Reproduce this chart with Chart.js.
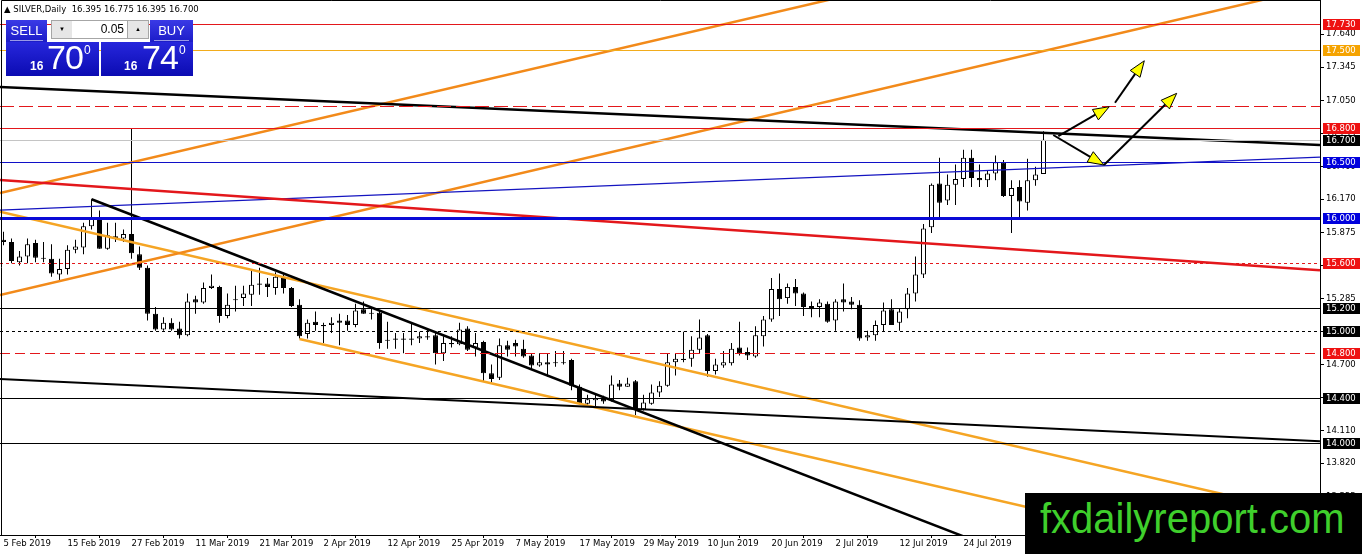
<!DOCTYPE html>
<html>
<head>
<meta charset="utf-8">
<script src="https://cdn.jsdelivr.net/npm/chart.js"></script>
<style>
  body { margin: 0; background: #fff; }
  #wrap { position: relative; width: 1362px; height: 554px; overflow: hidden; }
  #chart { position: absolute; left: 0; top: 0; }
  .abs { position: absolute; }
  #title { left: 4px; top: 4px; font: 8.5px 'DejaVu Sans', sans-serif; color: #000; white-space: pre; }
  .head { background: linear-gradient(#3a3ae6, #1c1cc8); color: #fff; font: 13px 'Liberation Sans', sans-serif; text-align: center; line-height: 21px; }
  .head span { display: block; margin: 0 4px; border-bottom: 1px solid rgba(255,255,255,0.55); height: 20px; }
  .big { background: linear-gradient(#2727dc, #0b0bb2); color: #fff; font-family: 'Liberation Sans', sans-serif; }
  .spin { background: #e6e6e6; border: 1px solid #a6a6a6; box-sizing: border-box; font-size: 6px; text-align: center; line-height: 17px; color: #000; }
  #lot { left: 72px; top: 20px; width: 56px; height: 19px; background: #fff; border-top: 1px solid #a6a6a6; border-bottom: 1px solid #a6a6a6; box-sizing: border-box; font: 12px 'Liberation Sans', sans-serif; text-align: right; padding-right: 4px; line-height: 17px; }
  .small { font-size: 12px; font-weight: bold; }
  .digits { font-size: 34px; letter-spacing: -1px; }
  .sup { font-size: 12px; }
  #logo { left: 1025px; top: 493px; width: 337px; height: 61px; background: #000; }
  #logo div { position: absolute; left: 15px; top: 1px; font: 43px 'Liberation Sans', sans-serif; color: #3fcf2c; transform: scaleX(0.93); transform-origin: left top; white-space: nowrap; }
</style>
</head>
<body>
<div id="wrap">
  <canvas id="chart" width="1362" height="554"></canvas>
  <div id="title" class="abs">▲ SILVER,Daily  16.395 16.775 16.395 16.700</div>

  <div class="abs head" style="left:6px;top:20px;width:41px;height:22px;"><span>SELL</span></div>
  <div class="abs spin" style="left:51px;top:20px;width:22px;height:19px;">▼</div>
  <div id="lot" class="abs">0.05</div>
  <div class="abs spin" style="left:127px;top:20px;width:22px;height:19px;">▲</div>
  <div class="abs head" style="left:150px;top:20px;width:43px;height:22px;"><span>BUY</span></div>

  <div class="abs big" style="left:6px;top:42px;width:93px;height:34px;"></div>
  <div class="abs big" style="left:101px;top:42px;width:92px;height:34px;"></div>
  <div class="abs small" style="left:30px;top:59px;color:#fff;font-family:'Liberation Sans';">16</div>
  <div class="abs digits" style="left:47px;top:38px;color:#fff;font-family:'Liberation Sans';">70</div>
  <div class="abs sup" style="left:84px;top:43px;color:#fff;font-family:'Liberation Sans';">0</div>
  <div class="abs small" style="left:124px;top:59px;color:#fff;font-family:'Liberation Sans';">16</div>
  <div class="abs digits" style="left:142px;top:38px;color:#fff;font-family:'Liberation Sans';">74</div>
  <div class="abs sup" style="left:179px;top:43px;color:#fff;font-family:'Liberation Sans';">0</div>

  <div id="logo" class="abs"><div>fxdailyreport.com</div></div>
</div>

<script>
// Daily candles, index 0 = 5 Feb 2019
const opens = [
  15.81, 15.79, 15.61, 15.66, 15.78, 15.65, 15.64, 15.50, 15.55, 15.72,
  15.74, 15.93, 16.01, 15.73, 15.84, 15.82, 15.86, 15.68, 15.56, 15.15,
  15.01, 15.07, 15.02, 14.96, 15.28, 15.25, 15.38, 15.39, 15.13, 15.28,
  15.29, 15.32, 15.42, 15.42, 15.38, 15.47, 15.38, 15.23, 14.97, 15.08,
  15.05, 15.05, 15.09, 15.09, 15.05, 15.19, 15.16, 15.16, 14.92, 14.93,
  14.93, 14.93, 14.93, 14.95, 14.96, 14.80, 14.89, 14.88, 15.02, 14.85,
  14.90, 14.62, 14.58, 14.87, 14.89, 14.84, 14.78, 14.69, 14.72, 14.72,
  14.72, 14.74, 14.50, 14.35, 14.38, 14.40, 14.38, 14.53, 14.50, 14.55,
  14.30, 14.35, 14.45, 14.51, 14.72, 14.75, 14.75, 14.83, 14.96, 14.64,
  14.69, 14.71, 14.85, 14.81, 14.77, 14.95, 15.10, 15.37, 15.29, 15.39,
  15.33, 15.22, 15.21, 15.24, 15.09, 15.28, 15.26, 15.23, 14.94, 14.96,
  15.05, 15.19, 15.07, 15.19, 15.33, 15.50, 15.92, 16.31, 16.16, 16.30,
  16.35, 16.54, 16.36, 16.34, 16.40, 16.50, 16.20, 16.28, 16.14, 16.34,
  16.395
];
const highs = [
  15.88, 15.82, 15.71, 15.82, 15.81, 15.79, 15.77, 15.64, 15.76, 15.81,
  15.96, 16.17, 16.07, 15.96, 15.96, 15.90, 16.80, 15.75, 15.58, 15.21,
  15.12, 15.11, 15.08, 15.33, 15.31, 15.43, 15.50, 15.40, 15.33, 15.40,
  15.40, 15.54, 15.56, 15.47, 15.52, 15.50, 15.39, 15.28, 15.10, 15.17,
  15.07, 15.12, 15.15, 15.14, 15.24, 15.26, 15.20, 15.18, 15.08, 14.98,
  14.98, 15.07, 14.99, 15.01, 14.98, 14.95, 14.95, 15.07, 15.04, 14.98,
  14.91, 14.70, 14.93, 14.91, 14.92, 14.92, 14.80, 14.80, 14.80, 14.82,
  14.82, 14.75, 14.52, 14.43, 14.43, 14.42, 14.60, 14.56, 14.58, 14.56,
  14.43, 14.52, 14.55, 14.80, 14.80, 14.99, 14.95, 15.10, 14.97, 14.75,
  14.82, 14.89, 15.08, 14.85, 15.04, 15.13, 15.47, 15.51, 15.42, 15.46,
  15.34, 15.26, 15.28, 15.26, 15.28, 15.42, 15.30, 15.27, 15.00, 15.09,
  15.25, 15.28, 15.20, 15.38, 15.66, 15.95, 16.31, 16.54, 16.39, 16.48,
  16.61, 16.61, 16.48, 16.43, 16.56, 16.52, 16.34, 16.34, 16.53, 16.46,
  16.775
];
const lows = [
  15.76, 15.60, 15.58, 15.60, 15.61, 15.61, 15.48, 15.45, 15.50, 15.69,
  15.68, 15.90, 15.73, 15.72, 15.79, 15.79, 15.64, 15.54, 15.09, 15.00,
  15.00, 15.00, 14.93, 14.95, 15.15, 15.24, 15.37, 15.07, 15.11, 15.17,
  15.22, 15.22, 15.32, 15.30, 15.32, 15.33, 15.21, 14.93, 14.93, 15.00,
  14.89, 14.98, 14.87, 15.00, 15.03, 15.15, 15.10, 14.84, 14.84, 14.84,
  14.80, 14.87, 14.89, 14.92, 14.70, 14.73, 14.85, 14.87, 14.82, 14.77,
  14.55, 14.54, 14.56, 14.77, 14.77, 14.76, 14.65, 14.68, 14.59, 14.68,
  14.70, 14.47, 14.34, 14.32, 14.32, 14.35, 14.37, 14.47, 14.50, 14.25,
  14.29, 14.34, 14.41, 14.50, 14.60, 14.72, 14.68, 14.80, 14.59, 14.61,
  14.67, 14.69, 14.78, 14.74, 14.76, 14.86, 15.08, 15.13, 15.24, 15.22,
  15.13, 15.12, 15.12, 15.07, 15.00, 15.17, 15.19, 14.91, 14.91, 14.91,
  14.99, 15.05, 15.00, 15.11, 15.26, 15.47, 15.87, 16.00, 16.12, 16.12,
  16.28, 16.28, 16.28, 16.28, 16.34, 16.19, 15.87, 15.99, 16.07, 16.29,
  16.395
];
const closes = [
  15.79, 15.62, 15.66, 15.77, 15.65, 15.64, 15.51, 15.55, 15.72, 15.75,
  15.93, 16.00, 15.73, 15.85, 15.82, 15.86, 15.69, 15.56, 15.15, 15.01,
  15.07, 15.01, 14.96, 15.26, 15.25, 15.38, 15.40, 15.13, 15.23, 15.27,
  15.33, 15.41, 15.41, 15.39, 15.48, 15.38, 15.22, 14.95, 15.07, 15.05,
  15.04, 15.07, 15.07, 15.05, 15.18, 15.15, 15.15, 14.89, 14.91, 14.92,
  14.92, 14.92, 14.95, 14.94, 14.80, 14.89, 14.88, 15.01, 14.83, 14.89,
  14.62, 14.57, 14.87, 14.83, 14.86, 14.77, 14.69, 14.72, 14.70, 14.71,
  14.71, 14.51, 14.35, 14.39, 14.40, 14.37, 14.52, 14.50, 14.53, 14.30,
  14.36, 14.45, 14.51, 14.72, 14.75, 14.74, 14.83, 14.94, 14.64, 14.70,
  14.72, 14.84, 14.80, 14.78, 14.96, 15.10, 15.37, 15.28, 15.39, 15.33,
  15.21, 15.19, 15.25, 15.08, 15.26, 15.25, 15.23, 14.93, 14.96, 15.05,
  15.18, 15.05, 15.17, 15.33, 15.50, 15.91, 16.30, 16.14, 16.30, 16.35,
  16.54, 16.36, 16.34, 16.40, 16.50, 16.20, 16.27, 16.15, 16.34, 16.39,
  16.70
];

// Date labels every 8 bars
const dateTicks = [0, 8, 16, 24, 32, 40, 48, 56, 64, 72, 80, 88, 96, 104, 112, 120, 128];
const dateLabels = ['5 Feb 2019', '15 Feb 2019', '27 Feb 2019', '11 Mar 2019', '21 Mar 2019',
  '2 Apr 2019', '12 Apr 2019', '25 Apr 2019', '7 May 2019', '17 May 2019', '29 May 2019',
  '10 Jun 2019', '20 Jun 2019', '2 Jul 2019', '12 Jul 2019', '24 Jul 2019', '5 Aug 2019'];

// Right price scale
const priceTicks = [17.640, 17.345, 17.050, 16.755, 16.460, 16.170, 15.875, 15.580,
  15.285, 14.990, 14.700, 14.405, 14.110, 13.820, 13.525];

// Horizontal levels drawn across the chart
const levels = [17.73, 17.50, 17.00, 16.80, 16.70, 16.50, 16.00, 15.60, 15.20, 15.00, 14.80, 14.40, 14.00];

// Trend lines, [bar index, price] at both ends
const blackTopLine = [[-0.44, 17.169], [164.56, 16.653]];
const blackFallLine = [[11, 16.17], [124.56, 13.043]];
const blackLowLine = [[-0.44, 14.570], [164.56, 14.015]];
const redFallLine = [[-0.44, 16.341], [164.56, 15.537]];
const blueRiseLine = [[-0.44, 16.074], [164.56, 16.546]];
const orangeRiseTop = [[-0.44, 16.226], [112.06, 18.093]];
const orangeRiseLow = [[-0.44, 15.318], [164.56, 18.065]];
const goldFallTop = [[-0.44, 16.059], [164.56, 13.345]];
const goldFallLow = [[37, 14.926], [164.56, 12.827]];

// Hand drawn scenario arrows
const arrowPaths = [
  [[131.85, 16.733], [138.22, 16.994]],
  [[138.94, 17.029], [142.60, 17.403]],
  [[131.22, 16.742], [137.56, 16.475]],
  [[137.56, 16.475], [146.65, 17.113]]
];

const X_MIN = -0.4375, X_MAX = 164.5625;
const Y_MIN = 13.181, Y_MAX = 17.944;

// line look for each level (same order as levels)
const levelStyle = [
  { color: '#e3171b', width: 1, tag: '#ee1111' },
  { color: '#f2ac1c', width: 1, tag: '#f5a300' },
  { color: '#e3171b', width: 1, dash: [14, 5] },
  { color: '#e3171b', width: 1, tag: '#ee1111' },
  { color: '#c4c4c4', width: 1, tag: '#000000' },
  { color: '#1010c8', width: 1, tag: '#0000dd' },
  { color: '#0a0ad6', width: 3, tag: '#0000dd' },
  { color: '#e3171b', width: 1, dash: [3, 3], tag: '#ee1111' },
  { color: '#000000', width: 1, tag: '#000000' },
  { color: '#000000', width: 1, dash: [3, 3], tag: '#000000' },
  { color: '#e3171b', width: 1, dash: [10, 5], tag: '#ee1111' },
  { color: '#000000', width: 1, tag: '#000000' },
  { color: '#000000', width: 1, tag: '#000000' }
];

const FONT = "'DejaVu Sans', sans-serif";
Chart.defaults.font.family = FONT;
Chart.defaults.font.size = 8.5;
Chart.defaults.color = '#000';

function trend(points, color, width) {
    return {
        type: 'line',
        data: points.map(p => ({ x: p[0], y: p[1] })),
        borderColor: color,
        borderWidth: width,
        pointRadius: 0,
        tension: 0,
        fill: false,
        order: 0
    };
}

function drawArrow(ctx, x0, y0, x1, y1) {
    const ang = Math.atan2(y1 - y0, x1 - x0);
    const len = 16, half = 6;
    const bx = x1 - len * Math.cos(ang), by = y1 - len * Math.sin(ang);
    ctx.strokeStyle = '#000';
    ctx.lineWidth = 2;
    ctx.beginPath();
    ctx.moveTo(x0, y0);
    ctx.lineTo(bx, by);
    ctx.stroke();
    ctx.beginPath();
    ctx.moveTo(x1, y1);
    ctx.lineTo(bx - half * Math.sin(ang), by + half * Math.cos(ang));
    ctx.lineTo(bx + half * Math.sin(ang), by - half * Math.cos(ang));
    ctx.closePath();
    ctx.fillStyle = '#ffff00';
    ctx.fill();
    ctx.lineWidth = 1;
    ctx.stroke();
}

// levels, arrows, frame and the coloured price tags
const overlayPlugin = {
    id: 'overlay',
    afterDatasetsDraw(chart) {
        const { ctx, chartArea: a, scales: { x, y } } = chart;
        ctx.save();
        ctx.beginPath();
        ctx.rect(a.left, a.top, a.right - a.left, a.bottom - a.top);
        ctx.clip();
        levels.forEach((lv, i) => {
            const st = levelStyle[i];
            const py = Math.round(y.getPixelForValue(lv)) + (st.width % 2 ? 0.5 : 0);
            ctx.strokeStyle = st.color;
            ctx.lineWidth = st.width;
            ctx.setLineDash(st.dash || []);
            ctx.beginPath();
            ctx.moveTo(a.left, py);
            ctx.lineTo(a.right, py);
            ctx.stroke();
        });
        ctx.setLineDash([]);
        arrowPaths.forEach(p => {
            drawArrow(ctx, x.getPixelForValue(p[0][0]), y.getPixelForValue(p[0][1]),
                x.getPixelForValue(p[1][0]), y.getPixelForValue(p[1][1]));
        });
        ctx.restore();
    },
    afterDraw(chart) {
        const { ctx, chartArea: a, scales: { y } } = chart;
        ctx.save();
        ctx.strokeStyle = '#000';
        ctx.lineWidth = 1;
        ctx.beginPath();
        ctx.moveTo(1.5, a.bottom);
        ctx.lineTo(1.5, 0.5);
        ctx.lineTo(a.right, 0.5);
        ctx.stroke();

        ctx.font = '8.5px ' + FONT;
        ctx.textBaseline = 'middle';
        ctx.textAlign = 'left';
        levels.forEach((lv, i) => {
            const st = levelStyle[i];
            if (!st.tag) return;
            const py = Math.round(y.getPixelForValue(lv));
            ctx.fillStyle = st.tag;
            ctx.fillRect(a.right + 3, py - 5, 37, 11);
            ctx.fillStyle = '#fff';
            ctx.fillText(lv.toFixed(3), a.right + 6, py + 0.5);
        });
        ctx.restore();
    }
};

document.addEventListener('DOMContentLoaded', function () {
    const idx = opens.map((_, i) => i);
    const ctx = document.getElementById('chart').getContext('2d');

    new Chart(ctx, {
        type: 'bar',
        data: {
            datasets: [
                trend(blackTopLine, '#000', 2.5),
                trend(blackFallLine, '#000', 2.5),
                trend(blackLowLine, '#000', 2),
                trend(redFallLine, '#e3171b', 2.5),
                trend(blueRiseLine, '#1414c0', 1.3),
                trend(orangeRiseTop, '#f28a1a', 2.5),
                trend(orangeRiseLow, '#f28a1a', 2.5),
                trend(goldFallTop, '#f5a524', 2.5),
                trend(goldFallLow, '#f5a524', 2.5),
                {
                    // candle bodies
                    type: 'bar',
                    data: idx.map(i => ({ x: i, y: [opens[i], closes[i]] })),
                    backgroundColor: idx.map(i => closes[i] >= opens[i] ? '#ffffff' : '#000000'),
                    borderColor: '#000',
                    borderWidth: 1,
                    borderSkipped: false,
                    barThickness: 5,
                    minBarLength: 1,
                    grouped: false,
                    inflateAmount: 0,
                    order: 1
                },
                {
                    // wicks
                    type: 'bar',
                    data: idx.map(i => ({ x: i, y: [lows[i], highs[i]] })),
                    backgroundColor: '#000',
                    borderWidth: 0,
                    barThickness: 1,
                    grouped: false,
                    inflateAmount: 0,
                    order: 2
                }
            ]
        },
        options: {
            responsive: false,
            animation: false,
            devicePixelRatio: 1,
            events: [],
            layout: { padding: 0, autoPadding: false },
            plugins: {
                legend: { display: false },
                tooltip: { enabled: false },
                title: { display: false }
            },
            scales: {
                x: {
                    type: 'linear',
                    min: X_MIN,
                    max: X_MAX,
                    offset: false,
                    afterBuildTicks: s => { s.ticks = dateTicks.map(v => ({ value: v })); },
                    afterFit: s => { s.height = 19; s.paddingLeft = 0; s.paddingRight = 0; },
                    ticks: {
                        autoSkip: false,
                        maxRotation: 0,
                        align: 'start',
                        padding: 1,
                        callback: (v, i) => dateLabels[i]
                    },
                    grid: { drawOnChartArea: false, tickLength: 3, color: '#000' },
                    border: { color: '#000' }
                },
                y: {
                    position: 'right',
                    min: Y_MIN,
                    max: Y_MAX,
                    afterBuildTicks: s => { s.ticks = priceTicks.map(v => ({ value: v })); },
                    afterFit: s => { s.width = 42; s.paddingTop = 0; s.paddingBottom = 0; },
                    ticks: {
                        padding: 2,
                        callback: v => Number(v).toFixed(3)
                    },
                    grid: { drawOnChartArea: false, tickLength: 4, color: '#000' },
                    border: { color: '#000' }
                }
            }
        },
        plugins: [overlayPlugin]
    });
});
</script>
</body>
</html>
